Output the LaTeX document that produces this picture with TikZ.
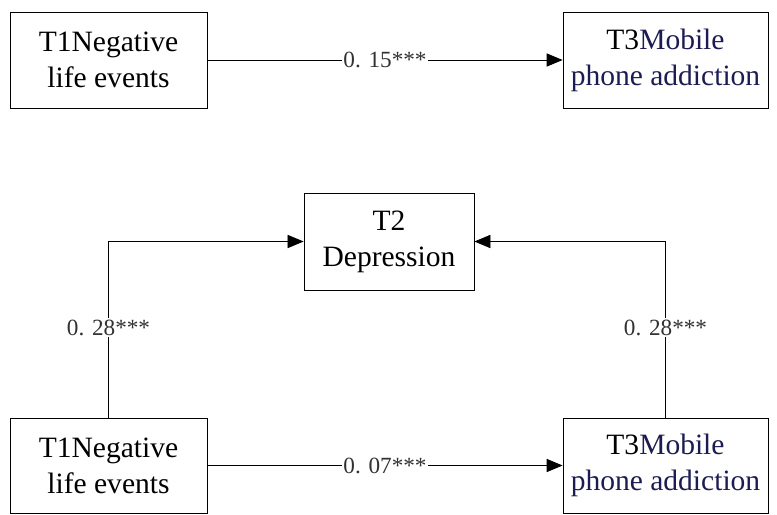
\documentclass[tikz,border=0pt]{standalone}
\usepackage{fontspec}
\setmainfont{Liberation Serif}
\usetikzlibrary{arrows.meta}
\definecolor{navy}{RGB}{28,28,82}
\definecolor{coef}{RGB}{50,50,50}
\tikzset{
    var/.style={draw, line width=0.6pt, align=center, inner sep=0pt,
        font=\fontsize{21}{25.5}\selectfont},
    path/.style={line width=0.6pt, -{Triangle[length=4mm,width=3.3mm]}},
    coefl/.style={fill=white, inner sep=1pt, text=coef,
        font=\fontsize{16.5}{18}\selectfont}
}
\begin{document}
\begin{tikzpicture}[x=0.025cm, y=-0.025cm]
    \useasboundingbox (0,0) rectangle (777,514);

    % Total effect
    \node[var, minimum width=197*0.025cm, minimum height=96*0.025cm] (negA) at (108.5,60)
        {T1Negative\\life events};
    \node[var, minimum width=205*0.025cm, minimum height=96*0.025cm] (mobA) at (665.5,60)
        {T3\textcolor{navy}{Mobile}\\\textcolor{navy}{phone addiction}};
    \draw[path] (negA) -- node[coefl] {0. 15***} (mobA);

    % Mediation
    \node[var, minimum width=170*0.025cm, minimum height=97*0.025cm] (dep) at (389,241.5)
        {T2\\Depression};
    \node[var, minimum width=197*0.025cm, minimum height=95*0.025cm] (negB) at (108.5,465.5)
        {T1Negative\\life events};
    \node[var, minimum width=205*0.025cm, minimum height=95*0.025cm] (mobB) at (665.5,465.5)
        {T3\textcolor{navy}{Mobile}\\\textcolor{navy}{phone addiction}};
    \draw[path] (negB.north) |- node[coefl, pos=0.255] {0. 28***} (dep.west);
    \draw[path] (mobB.north) |- node[coefl, pos=0.255] {0. 28***} (dep.east);
    \draw[path] (negB) -- node[coefl] {0. 07***} (mobB);
\end{tikzpicture}
\end{document}
